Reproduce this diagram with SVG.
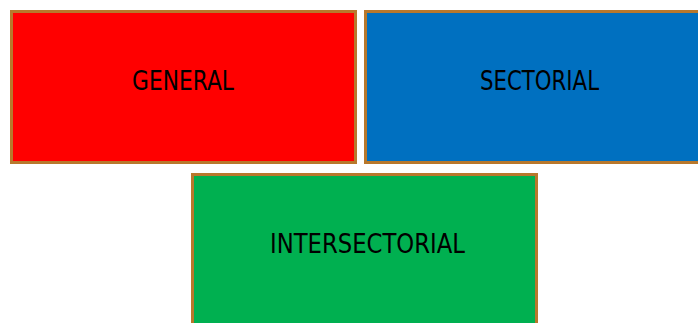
<svg xmlns="http://www.w3.org/2000/svg" width="698" height="323" viewBox="0 0 698 323">
<style>
.box{stroke:#b8782c;stroke-width:3}
.lbl{font-family:"DejaVu Sans","Liberation Sans",Arial,sans-serif;font-size:26px;fill:#000;text-anchor:middle}
</style>
<rect width="698" height="323" fill="#fff"/>
<g id="general">
<rect class="box" x="11.5" y="11.5" width="344" height="151" fill="#ff0000"/>
<text class="lbl" x="183" y="90" textLength="102" lengthAdjust="spacingAndGlyphs">GENERAL</text>
</g>
<g id="sectorial">
<rect class="box" x="365.5" y="11.5" width="346" height="151" fill="#0070c0"/>
<text class="lbl" x="539.5" y="90" textLength="119" lengthAdjust="spacingAndGlyphs">SECTORIAL</text>
</g>
<g id="intersectorial">
<rect class="box" x="192.5" y="174.5" width="344" height="160" fill="#00b050"/>
<text class="lbl" x="367.5" y="253" textLength="195" lengthAdjust="spacingAndGlyphs">INTERSECTORIAL</text>
</g>
<g id="connectors"/>
</svg>
